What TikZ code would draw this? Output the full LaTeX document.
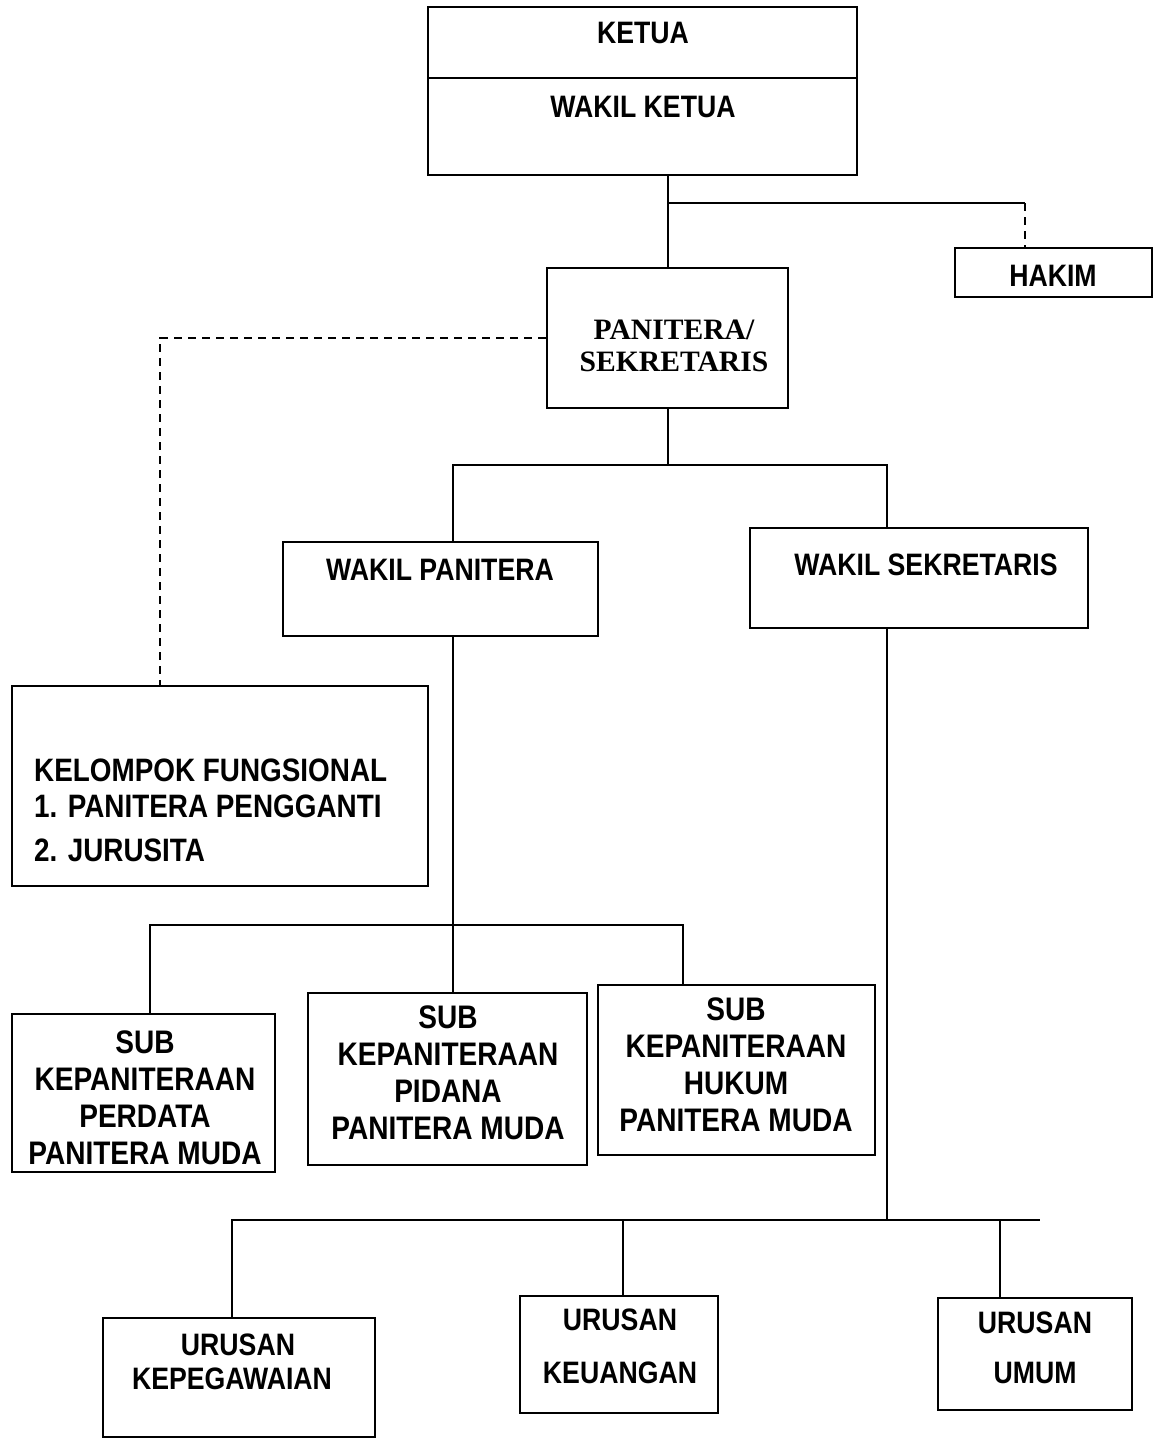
\documentclass[tikz,border=0pt]{standalone}
\usepackage{fontspec}
\setmainfont{Liberation Sans}[FakeStretch=0.86]
\newfontfamily\serb{Liberation Serif}
\usetikzlibrary{fit}
\begin{document}
\begin{tikzpicture}[x=0.5pt,y=-0.5pt,line width=1.25pt,
  box/.style={draw,rectangle,inner sep=0pt},
  lbl/.style={inner sep=0pt,align=center,font=\fontsize{16.3}{18.5}\selectfont\bfseries},
  lblt/.style={inner sep=0pt,align=center,font=\fontsize{15.5}{18}\selectfont\bfseries},
  lblk/.style={inner sep=0pt,align=center,font=\fontsize{16.2}{18}\selectfont\bfseries},
  dsh/.style={dash pattern=on 4pt off 3pt}]
\useasboundingbox (0,0) rectangle (1160,1447);
% boxes
\node[box,fit={(428,7) (857,175)}] (ketua) {};
\coordinate (kdl) at (428,78); \coordinate (kdr) at (857,78);
\draw (kdl) -- (kdr);
\node[box,fit={(955,248) (1152,297)}] (hakim) {};
\node[box,fit={(547,268) (788,408)}] (pan) {};
\node[box,fit={(283,542) (598,636)}] (wp) {};
\node[box,fit={(750,528) (1088,628)}] (ws) {};
\node[box,fit={(12,686) (428,886)}] (kel) {};
\node[box,fit={(12,1014) (275,1172)}] (per) {};
\node[box,fit={(308,993) (587,1165)}] (pid) {};
\node[box,fit={(598,985) (875,1155)}] (huk) {};
\node[box,fit={(103,1318) (375,1437)}] (kep) {};
\node[box,fit={(520,1296) (718,1413)}] (keu) {};
\node[box,fit={(938,1298) (1132,1410)}] (umu) {};
% texts
\node[lblt] (tketua) at (643,33) {KETUA};
\node[lblt] (twk) at (643,107) {WAKIL KETUA};
\node[lblt] (thk) at (1053,276) {HAKIM};
\node[inner sep=0pt,align=center,font=\fontsize{14.8}{16}\selectfont\serb\bfseries] (tpan) at (674,346) {PANITERA/\\SEKRETARIS};
\node[lblt] (twp) at (440,570) {WAKIL PANITERA};
\node[lblt] (tws) at (926,565) {WAKIL SEKRETARIS};
\node[lblk,anchor=west] (tk1) at (33,770) {KELOMPOK FUNGSIONAL};
\node[lblk,anchor=west] (tk2) at (33,806) {1. PANITERA PENGGANTI};
\node[lblk,anchor=west] (tk3) at (33,850) {2. JURUSITA};
\node[lbl] (tper) at (145,1098) {SUB\\KEPANITERAAN\\PERDATA\\PANITERA MUDA};
\node[lbl] (tpid) at (448,1073) {SUB\\KEPANITERAAN\\PIDANA\\PANITERA MUDA};
\node[lbl] (thuk) at (736,1065) {SUB\\KEPANITERAAN\\HUKUM\\PANITERA MUDA};
\node[lblt] (tkep1) at (238,1345) {URUSAN};
\node[lblt] (tkep2) at (232,1379) {KEPEGAWAIAN};
\node[lblt] (tkeu1) at (620,1320) {URUSAN};
\node[lblt] (tkeu2) at (620,1373) {KEUANGAN};
\node[lblt] (tumu1) at (1035,1323) {URUSAN};
\node[lblt] (tumu2) at (1035,1373) {UMUM};
% connectors
\coordinate (j1) at (668,203);
\coordinate (hx) at (1025,203);
\draw (j1 |- ketua.south) -- (j1 |- pan.north);
\draw (j1) -- (hx);
\draw[dsh] (hx) -- (hx |- hakim.north);
\coordinate (kx) at (160,0);
\draw[dsh] (pan.west) -| (kx |- kel.north);
\coordinate (b2) at (668,465);
\coordinate (wpx) at (453,0);
\coordinate (wsx) at (887,0);
\draw (j1 |- pan.south) -- (b2);
\draw (wpx |- wp.north) -- (wpx |- b2) -- (wsx |- b2) -- (wsx |- ws.north);
\coordinate (b3) at (0,925);
\coordinate (px) at (150,0);
\coordinate (hkx) at (683,0);
\draw (wpx |- wp.south) -- (wpx |- pid.north);
\draw (px |- per.north) -- (px |- b3) -- (hkx |- b3) -- (hkx |- huk.north);
\coordinate (b4) at (0,1220);
\coordinate (kpx) at (232,0);
\coordinate (kux) at (623,0);
\coordinate (umx) at (1000,0);
\coordinate (endx) at (1040,0);
\draw (wsx |- ws.south) -- (wsx |- b4);
\draw (kpx |- kep.north) -- (kpx |- b4) -- (endx |- b4);
\draw (kux |- b4) -- (kux |- keu.north);
\draw (umx |- b4) -- (umx |- umu.north);
\end{tikzpicture}
\end{document}
